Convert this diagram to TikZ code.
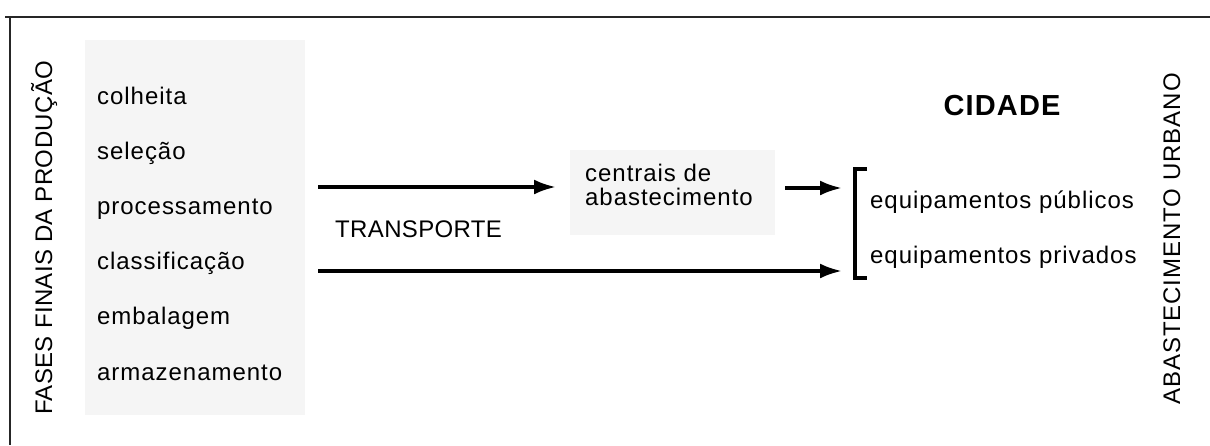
\documentclass[tikz,border=0pt]{standalone}
\usepackage{fontspec}
\setmainfont{Liberation Sans}
\newfontfamily\wide[LetterSpace=4]{Liberation Sans}
\newfontfamily\narrowsp[LetterSpace=1.5]{Liberation Sans}
\usetikzlibrary{arrows.meta}
\begin{document}
\begin{tikzpicture}[x=1pt,y=-1pt,
  lbl/.style={inner sep=0pt,anchor=base west,font=\wide\fontsize{24}{25}\selectfont},
  vlbl/.style={inner sep=0pt,anchor=base west,rotate=90,font=\narrowsp\fontsize{24}{25}\selectfont},
  stip/.style={fill=black!4,draw=none},
  arr/.style={line width=3.5pt,-{Latex[length=22pt,width=15pt]}},
  frame/.style={line width=1.8pt,black!85}]
\useasboundingbox (0,0) rectangle (1210,445);
% stippled backgrounds
\fill[stip] (85,40) rectangle (305,415);
\fill[stip] (570,150) rectangle (775,235);
% frame
\draw[frame] (5,17) -- (1210,17);
\draw[frame] (10,17) -- (10,445);
% vertical titles
\node[vlbl] (fases) at (52,415) {FASES FINAIS DA PRODUÇÃO};
\node[vlbl,font=\wide\fontsize{24}{25}\selectfont] (abast) at (1180,405) {ABASTECIMENTO URBANO};
% left items
\node[lbl] (colheita) at (97,104) {colheita};
\node[lbl] (selecao) at (97,159) {seleção};
\node[lbl] (proc) at (97,214) {processamento};
\node[lbl] (class) at (97,269) {classificação};
\node[lbl] (emb) at (97,324) {embalagem};
\node[lbl] (arm) at (97,380) {armazenamento};
% transport
\node[lbl,font=\narrowsp\fontsize{24}{25}\selectfont] (transp) at (335,237) {TRANSPORTE};
\node[lbl,align=left,font=\wide\fontsize{24}{25}\selectfont] (centrais) at (585,205) {centrais de\\[-1pt]abastecimento};
% city
\node[inner sep=0pt,anchor=base,font=\wide\bfseries\fontsize{29}{30}\selectfont] (cidade) at (1002,115) {CIDADE};
\node[lbl] (pub) at (870,208) {equipamentos públicos};
\node[lbl] (priv) at (870,263) {equipamentos privados};
% bracket
\coordinate (brt) at (855,169);
\coordinate (brb) at (855,278);
\draw[line width=3.5pt] ([xshift=12pt]brt) -- (brt) -- (brb) -- ([xshift=12pt]brb);
% arrows
\coordinate (s1) at (318,187);
\coordinate (e1) at (556,187);
\coordinate (s2) at (785,188);
\coordinate (e2) at (842,188);
\coordinate (s3) at (318,271);
\coordinate (e3) at (842,271);
\draw[arr] (s1) -- (e1);
\draw[arr] (s2) -- (e2);
\draw[arr] (s3) -- (e3);
\end{tikzpicture}
\end{document}
